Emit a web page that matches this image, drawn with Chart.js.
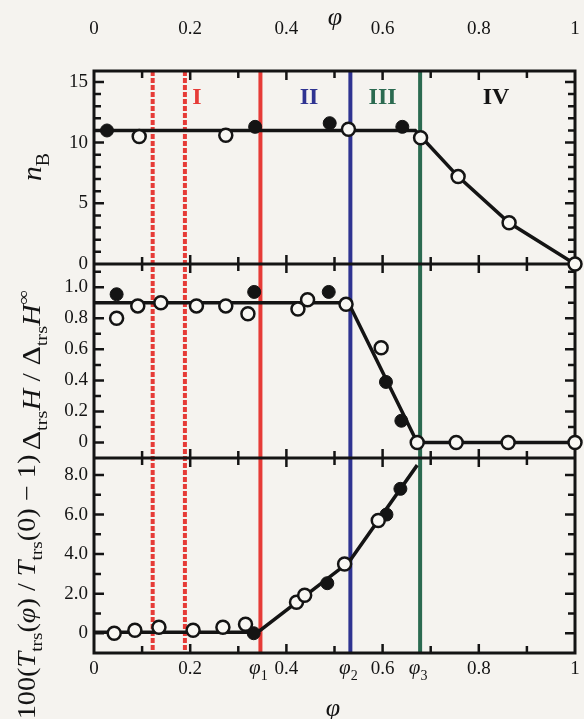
<!DOCTYPE html>
<html>
<head>
<meta charset="utf-8">
<script src="https://cdn.jsdelivr.net/npm/chart.js@4.4.1/dist/chart.umd.min.js"></script>
<style>
  html, body { margin: 0; padding: 0; background: #f5f3ef; }
  canvas { display: block; }
</style>
</head>
<body>
<canvas id="phaseChart" width="584" height="719"></canvas>
<script>
// phase boundaries (phi) and region labels
const phiDashed = [0.122, 0.189];
const phiBounds = [0.346, 0.533, 0.678];
const romanLabels = ['I', 'II', 'III', 'IV'];
const romanX = [0.214, 0.447, 0.600, 0.836];

const xTicks = [0, 0.2, 0.4, 0.6, 0.8, 1];

// top panel: n_B
const nbTicks = [0, 5, 10, 15];
const nbOpenX = [0.094, 0.274, 0.529, 0.679, 0.757, 0.863, 1.0];
const nbOpenY = [10.5, 10.6, 11.1, 10.4, 7.2, 3.4, 0];
const nbFilledX = [0.027, 0.335, 0.490, 0.641];
const nbFilledY = [11.0, 11.3, 11.6, 11.3];
const nbLineX = [0, 0.668, 0.757, 0.863, 1.0];
const nbLineY = [11, 11, 7.2, 3.4, 0];

// middle panel: enthalpy ratio
const dhTicks = [0, 0.2, 0.4, 0.6, 0.8, 1.0];
const dhOpenX = [0.047, 0.091, 0.139, 0.213, 0.274, 0.320, 0.424, 0.444, 0.524, 0.597, 0.672, 0.753, 0.861, 1.0];
const dhOpenY = [0.80, 0.88, 0.90, 0.88, 0.88, 0.83, 0.86, 0.92, 0.89, 0.61, 0, 0, 0, 0];
const dhFilledX = [0.047, 0.333, 0.488, 0.607, 0.639];
const dhFilledY = [0.955, 0.97, 0.97, 0.39, 0.14];
const dhLineX = [0, 0.529, 0.672, 1.0];
const dhLineY = [0.9, 0.9, 0, 0];

// bottom panel: transition temperature shift
const tTicks = [0, 2, 4, 6, 8];
const tOpenX = [0.042, 0.085, 0.135, 0.206, 0.268, 0.315, 0.421, 0.438, 0.521, 0.591];
const tOpenY = [0.0, 0.15, 0.3, 0.15, 0.3, 0.45, 1.57, 1.92, 3.5, 5.7];
const tFilledX = [0.332, 0.485, 0.608, 0.637];
const tFilledY = [0.0, 2.53, 6.0, 7.3];
const tLineX = [0, 0.335, 0.346, 0.530, 0.672];
const tLineY = [0.05, 0.05, 0.15, 3.6, 8.5];

const FONT = '"Liberation Serif", "DejaVu Serif", serif';
const INK = '#141414';
const RED = '#e63b37';
const BLUE = '#2f3391';
const GREEN = '#2b6a50';

let pts = (xs, ys) => xs.map((x, i) => ({ x: x, y: ys[i] }));

function lineSet(xs, ys, axis) {
    return { data: pts(xs, ys), yAxisID: axis, showLine: true, pointRadius: 0,
             borderColor: INK, borderWidth: 3.5, order: 3 };
}
function openSet(xs, ys, axis) {
    return { data: pts(xs, ys), yAxisID: axis, pointRadius: 6.5, borderWidth: 2.5,
             backgroundColor: '#f8f7f3', borderColor: INK, clip: false, order: 1 };
}
function filledSet(xs, ys, axis) {
    return { data: pts(xs, ys), yAxisID: axis, pointRadius: 6.5, borderWidth: 1,
             backgroundColor: INK, borderColor: INK, clip: false, order: 2 };
}

let fixedTicks = (arr) => (scale) => { scale.ticks = arr.map(v => ({ value: v })); };

function xAxis(pos, h, pad) {
    return {
        type: 'linear', position: pos, min: 0, max: 1,
        grid: { display: false, drawTicks: false }, border: { display: false },
        afterBuildTicks: fixedTicks(xTicks),
        // keep the label padding from eating into the plot width
        afterFit: (s) => { s.height = h; s.paddingLeft = 0; s.paddingRight = 0; },
        ticks: { padding: pad, maxRotation: 0, autoSkip: false, color: INK,
                 callback: (v) => v === 0 ? '0' : v === 1 ? '1' : v.toFixed(1) }
    };
}
function yAxis(min, max, weight, order, ticks, intLabels) {
    return {
        type: 'linear', position: 'left', stack: 'panels', stackWeight: weight, weight: order,
        min: min, max: max,
        grid: { display: false, drawTicks: false }, border: { display: false },
        afterBuildTicks: fixedTicks(ticks),
        afterFit: (s) => { s.width = 94; s.paddingTop = 0; s.paddingBottom = 0; },
        ticks: { padding: 6, color: INK, autoSkip: false,
                 callback: (v) => v === 0 ? '0' : intLabels ? String(v) : v.toFixed(1) }
    };
}

// draw a line of text made of roman / italic / sub / sup pieces
function richText(ctx, segs, cx, cy, size, rotated, stretch) {
    let fontFor = (st) => {
        if (st === 'i') return 'italic ' + size + 'px ' + FONT;
        if (st === 'sub' || st === 'sup') return Math.round(size * 0.66) + 'px ' + FONT;
        return size + 'px ' + FONT;
    };
    ctx.save();
    ctx.translate(cx, cy);
    if (rotated) ctx.rotate(-Math.PI / 2);
    ctx.scale(stretch || 1, 1);
    let total = 0;
    const widths = segs.map(([t, st]) => { ctx.font = fontFor(st); const w = ctx.measureText(t).width; total += w; return w; });
    let x = -total / 2;
    ctx.fillStyle = INK;
    ctx.textBaseline = 'alphabetic';
    ctx.textAlign = 'left';
    segs.forEach(([t, st], i) => {
        ctx.font = fontFor(st);
        let dy = size * 0.34;
        if (st === 'sub') dy += size * 0.28;
        if (st === 'sup') dy -= size * 0.42;
        ctx.fillText(t, x, dy);
        x += widths[i];
    });
    ctx.restore();
}

const framePlugin = {
    id: 'frame',
    beforeDatasetsDraw(chart) {
        const ctx = chart.ctx, ca = chart.chartArea, xs = chart.scales.x;
        const panels = [chart.scales.yA, chart.scales.yB, chart.scales.yC];
        ctx.save();
        // phase boundary lines
        ctx.lineWidth = 4;
        ctx.strokeStyle = RED;
        ctx.setLineDash([5, 2]);
        phiDashed.forEach(p => {
            const px = xs.getPixelForValue(p);
            ctx.beginPath(); ctx.moveTo(px, ca.top); ctx.lineTo(px, ca.bottom); ctx.stroke();
        });
        ctx.setLineDash([]);
        [RED, BLUE, GREEN].forEach((c, i) => {
            const px = xs.getPixelForValue(phiBounds[i]);
            ctx.strokeStyle = c;
            ctx.beginPath(); ctx.moveTo(px, ca.top); ctx.lineTo(px, ca.bottom); ctx.stroke();
        });

        // frames and inward ticks
        ctx.strokeStyle = INK;
        ctx.lineWidth = 3;
        ctx.strokeRect(ca.left, ca.top, ca.right - ca.left, ca.bottom - ca.top);
        ctx.beginPath();
        ctx.moveTo(ca.left, panels[0].bottom); ctx.lineTo(ca.right, panels[0].bottom);
        ctx.moveTo(ca.left, panels[1].bottom); ctx.lineTo(ca.right, panels[1].bottom);
        ctx.stroke();

        ctx.lineWidth = 2.5;
        ctx.beginPath();
        for (let k = 1; k < 10; k++) {
            const px = xs.getPixelForValue(k / 10);
            const len = k % 2 === 0 ? 9 : 7;
            panels.forEach(s => {
                ctx.moveTo(px, s.top); ctx.lineTo(px, s.top + len);
                ctx.moveTo(px, s.bottom); ctx.lineTo(px, s.bottom - len);
            });
        }
        const steps = [[1, 5], [0.1, 0.2], [1, 2]];
        panels.forEach((s, i) => {
            const [minor, major] = steps[i];
            for (let k = Math.ceil(s.min / minor - 1e-6); k * minor <= s.max + 1e-9; k++) {
                const v = k * minor;
                const py = s.getPixelForValue(v);
                if (Math.abs(py - s.top) < 3 || Math.abs(py - s.bottom) < 3) continue;
                const isMajor = Math.abs(v / major - Math.round(v / major)) < 1e-6;
                const len = isMajor ? 10 : 7;
                ctx.moveTo(ca.left, py); ctx.lineTo(ca.left + len, py);
                ctx.moveTo(ca.right, py); ctx.lineTo(ca.right - len, py);
            }
        });
        ctx.stroke();
        ctx.restore();
    },
    afterDraw(chart) {
        const ctx = chart.ctx, xs = chart.scales.x, yA = chart.scales.yA, ca = chart.chartArea;
        ctx.save();
        // region labels
        ctx.font = 'bold 24px ' + FONT;
        ctx.textAlign = 'center';
        ctx.textBaseline = 'middle';
        [RED, BLUE, GREEN, INK].forEach((c, i) => {
            ctx.fillStyle = c;
            ctx.fillText(romanLabels[i], xs.getPixelForValue(romanX[i]), yA.getPixelForValue(13.7));
        });
        // phi_n labels under the bottom axis
        phiBounds.forEach((p, i) => {
            richText(ctx, [['\u03c6', 'i'], [String(i + 1), 'sub']], xs.getPixelForValue(p) - 2, ca.bottom + 14, 21, false, 1);
        });
        // axis titles
        richText(ctx, [['\u03c6', 'i']], 335, 16, 26, false, 1);
        richText(ctx, [['\u03c6', 'i']], 333, 707, 26, false, 1);
        richText(ctx, [['n', 'i'], ['B', 'sub']], 32, 167, 27, true, 1.1);
        richText(ctx, [['\u0394', 'r'], ['trs', 'sub'], ['H', 'i'], [' / ', 'r'], ['\u0394', 'r'], ['trs', 'sub'], ['H', 'i'], ['\u221e', 'sup']],
                 31, 370, 25, true, 1.2);
        richText(ctx, [['100(', 'r'], ['T', 'i'], ['trs', 'sub'], ['(', 'r'], ['\u03c6', 'i'], [') / ', 'r'], ['T', 'i'], ['trs', 'sub'], ['(0) \u2212 1)', 'r']],
                 26, 587, 25, true, 1.13);
        ctx.restore();
    }
};

Chart.defaults.font.family = FONT;
Chart.defaults.font.size = 19;
Chart.defaults.color = INK;

new Chart(document.getElementById('phaseChart'), {
    type: 'scatter',
    data: {
        datasets: [
            lineSet(nbLineX, nbLineY, 'yA'), openSet(nbOpenX, nbOpenY, 'yA'), filledSet(nbFilledX, nbFilledY, 'yA'),
            lineSet(dhLineX, dhLineY, 'yB'), openSet(dhOpenX, dhOpenY, 'yB'), filledSet(dhFilledX, dhFilledY, 'yB'),
            lineSet(tLineX, tLineY, 'yC'), openSet(tOpenX, tOpenY, 'yC'), filledSet(tFilledX, tFilledY, 'yC')
        ]
    },
    options: {
        responsive: false,
        animation: false,
        events: [],
        layout: { padding: { left: 0, right: 8, top: 0, bottom: 0 } },
        plugins: { legend: { display: false }, tooltip: { enabled: false } },
        scales: {
            x: xAxis('bottom', 66, 5),
            xTop: xAxis('top', 71, 31),
            yA: yAxis(0, 15.9, 193, 3, nbTicks, true),
            yB: yAxis(-0.1, 1.15, 194, 2, dhTicks, false),
            yC: yAxis(-1.0, 8.86, 195, 1, tTicks, false)
        }
    },
    plugins: [framePlugin]
});
</script>
</body>
</html>
